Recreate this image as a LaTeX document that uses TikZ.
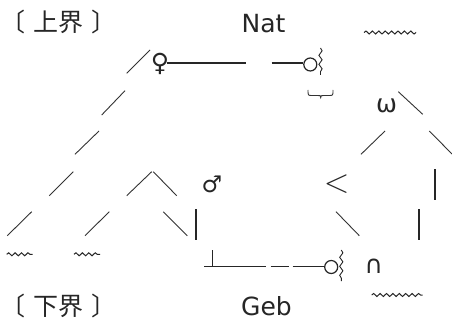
\documentclass[tikz,border=0pt]{standalone}
\usepackage{fontspec}
\setmainfont{DejaVu Sans}
\newfontfamily\cjk{Noto Sans CJK SC}
\usetikzlibrary{decorations.pathmorphing}
\tikzset{
        % Text labels
        label_text/.style={inner sep=0pt, text=black!85, font=\fontsize{25}{30}\selectfont},
        % Single symbols
        node_sym/.style={label_text, anchor=center},
        % Thin strokes of the slopes
        slope/.style={black!80, line width=0.9pt},
        % Heavy strokes
        bar/.style={black!85, line width=1.7pt},
        % Small ring at a line end
        ring/.style={circle, draw=black!85, line width=1.2pt, minimum size=13pt, inner sep=0pt},
        % Wavy underline
        wave_h/.style={black!85, line width=1pt, decorate, decoration={snake, segment length=6.4pt, amplitude=1.5pt}},
        % Wavy upright mark
        wave_v/.style={black!85, line width=0.9pt, decorate, decoration={snake, segment length=9pt, amplitude=1.6pt}}
}
\begin{document}
\begin{tikzpicture}[x=1pt, y=-1pt]
            \path[use as bounding box, fill=white] (0,0) rectangle (452,320);
            % labels
            \node[label_text, anchor=base west] (label_upper) at (0,32) {{\cjk 〔} {\cjk 上界} {\cjk 〕}};
            \node[label_text, anchor=base west] (label_lower) at (0,315.5) {{\cjk 〔} {\cjk 下界} {\cjk 〕}};
            \node[label_text, anchor=base] (label_nat) at (263.5,32.3) {Nat};
            \node[label_text, anchor=base] (label_geb) at (266.5,315.5) {Geb};
            % symbols
            \node[node_sym] (sym_venus) at (160,64) {♀};
            \node[node_sym, font=\fontsize{23}{27}\selectfont] (sym_mars) at (212,184) {♂};
            \node[node_sym] (sym_omega) at (386.5,106) {ω};
            \node[node_sym, scale=1.35] (sym_less) at (336.7,184.2) {$<$};
            \node[node_sym] (sym_cap) at (373.8,265.8) {∩};
            \node[ring] (ring_top) at (310.3,64.5) {};
            \node[ring] (ring_bottom) at (331.2,267) {};
            % slopes
            \foreach \xa/\ya/\xb/\yb in {126.7/73.3/150/50, 101.7/115/125/90.7, 75/154.3/99/131,
                    49.3/195.7/73.3/171.7, 7.3/235.7/31.7/211.7, 85/235.7/109.3/211.7,
                    126.7/195.7/151.7/171.7, 153.3/171.7/176.7/195.7, 163.3/211.7/187.3/235.7,
                    398.3/91.7/422.7/114.3, 361/154.3/385/131, 429.3/131/452/154,
                    336/211.7/359.3/235.7}
                \draw[slope] (\xa,\ya) -- (\xb,\yb);
            % upright bars
            \draw[bar] (196,209.3) -- (196,240);
            \draw[bar] (435.3,169.3) -- (435.3,200);
            \draw[bar] (419.3,209.3) -- (419.3,240);
            % top line
            \coordinate (top_gap_a) at (246,62.7);
            \coordinate (top_gap_b) at (271.7,62.7);
            \draw[bar] (167,62.7) -- (top_gap_a);
            \draw[bar] (top_gap_b) -- (ring_top.west |- top_gap_b);
            \draw[wave_v] (320.5,48) -- (320.5,75);
            % bottom line
            \coordinate (foot) at (212.5,266.5);
            \draw[bar] (212.5,250.5) -- (foot);
            \draw[bar] (204,266.5) -- (266,266.5);
            \draw[bar] (270.5,266.5) -- (288.5,266.5);
            \draw[bar] (292.7,266.5) -- (ring_bottom.west |- foot);
            \draw[wave_v] (341.3,250) -- (341.3,281);
            % brace under the top ring
            \draw[slope] (308,90) .. controls (308,95.5) .. (312,95.5) -- (318,95.5)
                .. controls (320.5,95.5) .. (320.7,97.5) .. controls (321,95.5) .. (323.5,95.5)
                -- (329,95.5) .. controls (333,95.5) .. (333,90);
            % wavy underlines
            \draw[wave_h] (364,32.5) -- (416,32.5);
            \draw[wave_h] (6.7,254.3) -- (32.7,254.3);
            \draw[wave_h] (74,254.3) -- (100,254.3);
            \draw[wave_h] (371.7,295) -- (422.7,295);
\end{tikzpicture}
\end{document}
